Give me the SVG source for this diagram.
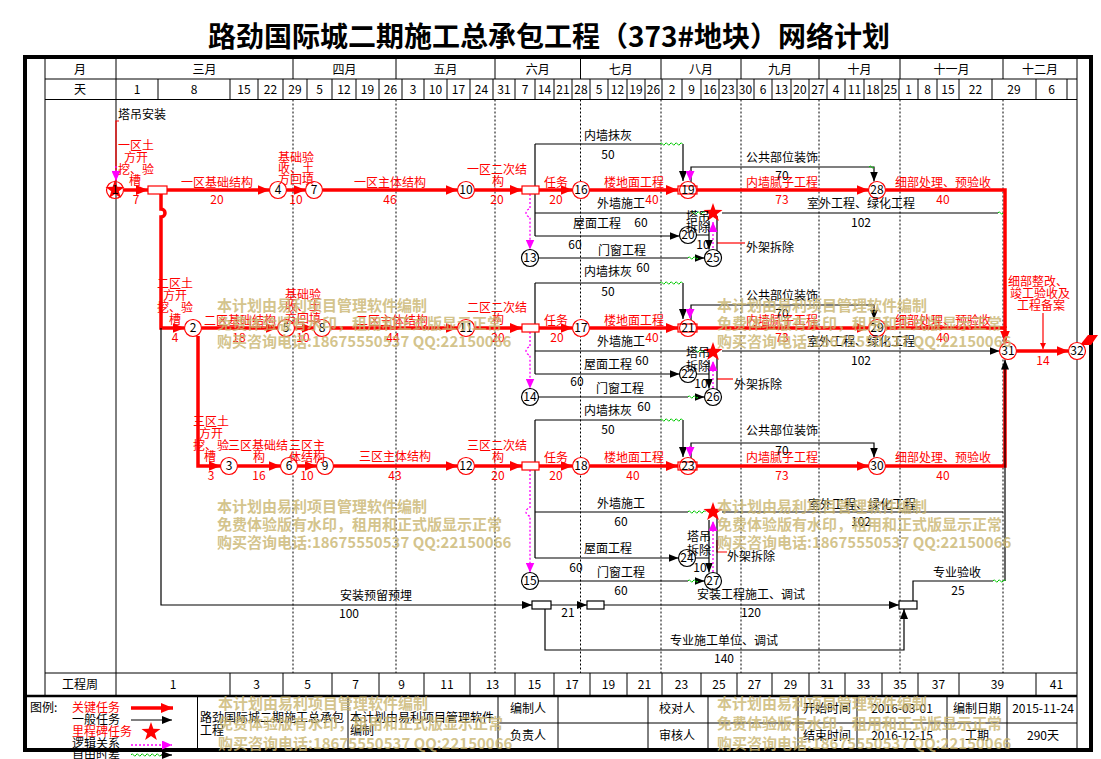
<svg xmlns="http://www.w3.org/2000/svg" width="1101" height="759" viewBox="0 0 1101 759">
<defs>
<style>
text{font-family:"Noto Sans CJK SC","Liberation Sans",sans-serif;font-size:12px;fill:#000}
.r{fill:#ff0000}
.m{text-anchor:middle}
.crit{stroke:#ff0000;stroke-width:3.5;fill:none}
.rl{stroke:#ff0000;stroke-width:1.2;fill:none}
.norm{stroke:#000;stroke-width:1.2;fill:none}
.logic{stroke:#ff00ff;stroke-width:1.3;stroke-dasharray:2,2;fill:none}
.ff{stroke:#00c800;stroke-width:1;fill:none}
.g{stroke:#000;stroke-width:1;fill:none}
.dot{stroke:#000;stroke-width:1;stroke-dasharray:2,2;fill:none}
.nr{fill:#fff;stroke:#ff0000;stroke-width:1.2}
.nk{fill:#fff;stroke:#000;stroke-width:1.2}
.br{fill:#fff;stroke:#ff0000;stroke-width:1.2}
.bo{fill:none;stroke:#ff0000;stroke-width:1.2}
.bk{fill:#fff;stroke:#000;stroke-width:1.2}
.wm{font-size:15px;font-weight:bold;fill:#c8b46e;fill-opacity:0.8}
</style>
<marker id="ar" viewBox="0 0 12 10" refX="12" refY="5" markerWidth="12" markerHeight="10" markerUnits="userSpaceOnUse" orient="auto"><path d="M0,0L12,5L0,10z" fill="#ff0000"/></marker>
<marker id="ak" viewBox="0 0 10 8" refX="10" refY="4" markerWidth="10" markerHeight="8" markerUnits="userSpaceOnUse" orient="auto"><path d="M0,0L10,4L0,8z" fill="#000"/></marker>
<marker id="am" viewBox="0 0 10 9" refX="10" refY="4.5" markerWidth="10" markerHeight="9" markerUnits="userSpaceOnUse" orient="auto"><path d="M0,0L10,4.5L0,9z" fill="#ff00ff"/></marker>
<marker id="ars" viewBox="0 0 6 6" refX="6" refY="3" markerWidth="6" markerHeight="6" markerUnits="userSpaceOnUse" orient="auto"><path d="M0,0L6,3L0,6z" fill="#ff0000"/></marker>
<polygon id="star" fill="#ff0000" points="0,-10 2.35,-3.24 9.51,-3.09 3.8,1.24 5.88,8.09 0,4 -5.88,8.09 -3.8,1.24 -9.51,-3.09 -2.35,-3.24"/>
</defs>
<rect width="1101" height="759" fill="#fff"/>
<text x="549" y="47" class="m" style="font-size:28px;font-weight:bold">路劲国际城二期施工总承包工程（373#地块）网络计划</text>

<g id="frame">
<rect x="25" y="57" width="1066" height="693" fill="none" stroke="#000" stroke-width="4"/>
<path class="g" d="M45,59V696M116,59V696M1077,59V750M45,79H1077M45,99.5H1077M45,673H1077"/>
<path d="M25,696H1077" stroke="#000" stroke-width="2.5"/>
<path class="g" d="M293,59V79M396,59V79M495,59V79M580.5,59V79M661,59V79M741,59V79M819,59V79M900,59V79M1003,59V79"/>
<path class="g" d="M158,79V99.5M230,79V99.5M258,79V99.5M283,79V99.5M307,79V99.5M332,79V99.5M356,79V99.5M379,79V99.5M402,79V99.5M424,79V99.5M447,79V99.5M470,79V99.5M493,79V99.5M515,79V99.5M535,79V99.5M554,79V99.5M572,79V99.5M590,79V99.5M608,79V99.5M627,79V99.5M645,79V99.5M662,79V99.5M682,79V99.5M701,79V99.5M719,79V99.5M737,79V99.5M754,79V99.5M772,79V99.5M791,79V99.5M809,79V99.5M827,79V99.5M845,79V99.5M864,79V99.5M882,79V99.5M899,79V99.5M918,79V99.5M937,79V99.5M959,79V99.5M992,79V99.5M1036,79V99.5M1067,79V99.5"/>
<path class="g" d="M230,673V696M283,673V696M332,673V696M379,673V696M424,673V696M470,673V696M515,673V696M554,673V696M590,673V696M627,673V696M662,673V696M701,673V696M737,673V696M772,673V696M809,673V696M845,673V696M882,673V696M918,673V696M959,673V696M1036,673V696"/>
<path class="dot" d="M293,99.5V673M396,99.5V673M495,99.5V673M580.5,99.5V673M661,99.5V673M741,99.5V673M819,99.5V673M900,99.5V673M1003,99.5V673"/>
<text x="80" y="73.5" class="m">月</text>
<text x="80" y="93.5" class="m">天</text>
<text x="80" y="688.5" class="m">工程周</text>
<g class="m">
<text x="204.5" y="73.5" class="m">三月</text><text x="344.5" y="73.5" class="m">四月</text><text x="445.5" y="73.5" class="m">五月</text><text x="537.8" y="73.5" class="m">六月</text><text x="620.8" y="73.5" class="m">七月</text><text x="701" y="73.5" class="m">八月</text><text x="780" y="73.5" class="m">九月</text><text x="859.5" y="73.5" class="m">十月</text><text x="951.5" y="73.5" class="m">十一月</text><text x="1040" y="73.5" class="m">十二月</text>
</g>
<g>
<text x="137" y="93.5" class="m">1</text><text x="194" y="93.5" class="m">8</text><text x="244" y="93.5" class="m">15</text><text x="270.5" y="93.5" class="m">22</text><text x="295" y="93.5" class="m">29</text><text x="319.5" y="93.5" class="m">5</text><text x="344" y="93.5" class="m">12</text><text x="367.5" y="93.5" class="m">19</text><text x="390.5" y="93.5" class="m">26</text><text x="413" y="93.5" class="m">3</text><text x="435.5" y="93.5" class="m">10</text><text x="458.5" y="93.5" class="m">17</text><text x="481.5" y="93.5" class="m">24</text><text x="504" y="93.5" class="m">31</text><text x="525" y="93.5" class="m">7</text><text x="544.5" y="93.5" class="m">14</text><text x="563" y="93.5" class="m">21</text><text x="581" y="93.5" class="m">28</text><text x="599" y="93.5" class="m">5</text><text x="617.5" y="93.5" class="m">12</text><text x="636" y="93.5" class="m">19</text><text x="653.5" y="93.5" class="m">26</text><text x="672" y="93.5" class="m">2</text><text x="691.5" y="93.5" class="m">9</text><text x="710" y="93.5" class="m">16</text><text x="728" y="93.5" class="m">23</text><text x="745.5" y="93.5" class="m">30</text><text x="763" y="93.5" class="m">6</text><text x="781.5" y="93.5" class="m">13</text><text x="800" y="93.5" class="m">20</text><text x="818" y="93.5" class="m">27</text><text x="836" y="93.5" class="m">4</text><text x="854.5" y="93.5" class="m">11</text><text x="873" y="93.5" class="m">18</text><text x="890.5" y="93.5" class="m">25</text><text x="908.5" y="93.5" class="m">1</text><text x="927.5" y="93.5" class="m">8</text><text x="948" y="93.5" class="m">15</text><text x="975.5" y="93.5" class="m">22</text><text x="1014" y="93.5" class="m">29</text><text x="1051.5" y="93.5" class="m">6</text>
</g>
<g>
<text x="173" y="688.5" class="m">1</text><text x="256.5" y="688.5" class="m">3</text><text x="307.5" y="688.5" class="m">5</text><text x="355.5" y="688.5" class="m">7</text><text x="401.5" y="688.5" class="m">9</text><text x="447" y="688.5" class="m">11</text><text x="492.5" y="688.5" class="m">13</text><text x="534.5" y="688.5" class="m">15</text><text x="572" y="688.5" class="m">17</text><text x="608.5" y="688.5" class="m">19</text><text x="644.5" y="688.5" class="m">21</text><text x="681.5" y="688.5" class="m">23</text><text x="719" y="688.5" class="m">25</text><text x="754.5" y="688.5" class="m">27</text><text x="790.5" y="688.5" class="m">29</text><text x="827" y="688.5" class="m">31</text><text x="863.5" y="688.5" class="m">33</text><text x="900" y="688.5" class="m">35</text><text x="938.5" y="688.5" class="m">37</text><text x="997.5" y="688.5" class="m">39</text><text x="1056.5" y="688.5" class="m">41</text>
</g>
</g>

<g id="connectors">
<path class="crit" marker-end="url(#ar)" d="M124,190H148"/>
<path class="crit" marker-end="url(#ar)" d="M167,190H269.5"/>
<path class="crit" marker-end="url(#ar)" d="M286.5,190H305.5"/>
<path class="crit" marker-end="url(#ar)" d="M322.5,190H457.5"/>
<path class="crit" marker-end="url(#ar)" d="M474.5,190H522"/>
<path class="crit" marker-end="url(#ar)" d="M539,190H572.5"/>
<path class="crit" marker-end="url(#ar)" d="M589.5,190H678"/>
<path class="crit" marker-end="url(#ar)" d="M697,190H868.5"/>
<path class="crit" d="M885.5,190H1005V328"/>
<path class="crit" marker-end="url(#ar)" d="M161,194V209a4,4 0 0 1 0,8V328H184.5"/>
<path class="crit" marker-end="url(#ar)" d="M201.5,328H277.5"/>
<path class="crit" marker-end="url(#ar)" d="M294.5,328H313.5"/>
<path class="crit" marker-end="url(#ar)" d="M330.5,328H457.5"/>
<path class="crit" marker-end="url(#ar)" d="M474.5,328H522"/>
<path class="crit" marker-end="url(#ar)" d="M539,328H572.5"/>
<path class="crit" marker-end="url(#ar)" d="M589.5,328H678"/>
<path class="crit" marker-end="url(#ar)" d="M697,328H868.5"/>
<path class="crit" marker-end="url(#ar)" d="M885.5,328H1005V342.5"/>
<path class="crit" marker-end="url(#ar)" d="M198,336V466H220.5"/>
<path class="crit" marker-end="url(#ar)" d="M237.5,466H280.5"/>
<path class="crit" marker-end="url(#ar)" d="M297.5,466H316.5"/>
<path class="crit" marker-end="url(#ar)" d="M333.5,466H457.5"/>
<path class="crit" marker-end="url(#ar)" d="M474.5,466H522"/>
<path class="crit" marker-end="url(#ar)" d="M539,466H572.5"/>
<path class="crit" marker-end="url(#ar)" d="M589.5,466H678"/>
<path class="crit" marker-end="url(#ar)" d="M697,466H868.5"/>
<path class="crit" d="M885.5,466H1005V368"/>
<path class="crit" marker-end="url(#ar)" d="M1016.5,351H1068.5"/>
<path class="rl" d="M119,121H116V181"/>
<path class="rl" marker-end="url(#ars)" d="M1043,313V349"/>
<path class="rl" d="M717,243H745"/>
<path class="rl" d="M717,379H733"/>
<path class="rl" d="M717,540V552H727"/>
<path class="norm" d="M535,144V236M535,144H660M535,213H692M722,213H998"/>
<path class="norm" marker-end="url(#ak)" d="M683,144V181"/>
<path class="norm" marker-end="url(#ak)" d="M535,236H679.5"/>
<path class="norm" marker-end="url(#ak)" d="M691,182V167H874V181.5"/>
<path class="norm" d="M538.5,258H688"/>
<path class="norm" marker-end="url(#ak)" d="M698,258H704.5"/>
<path class="norm" marker-end="url(#ak)" d="M709,221V249.5"/>
<path class="norm" d="M717,216V251M696.5,235H709"/>
<path class="norm" d="M535,283V374M535,283H660M535,351H694"/>
<path class="norm" marker-end="url(#ak)" d="M683,283V319"/>
<path class="norm" marker-end="url(#ak)" d="M535,374H679.5"/>
<path class="norm" marker-end="url(#ak)" d="M691,320V305H874V319.5"/>
<path class="norm" marker-end="url(#ak)" d="M722,351H999.5"/>
<path class="norm" d="M538.5,397H688"/>
<path class="norm" marker-end="url(#ak)" d="M698,397H704.5"/>
<path class="norm" marker-end="url(#ak)" d="M709,360V388.5"/>
<path class="norm" d="M717,358V390M696.5,374H709"/>
<path class="norm" d="M535,420V558M535,420H660M535,512H688M722,512H1003"/>
<path class="norm" marker-end="url(#ak)" d="M683,420V457"/>
<path class="norm" marker-end="url(#ak)" d="M535,558H678.5"/>
<path class="norm" marker-end="url(#ak)" d="M691,458V443H874V457.5"/>
<path class="norm" d="M538.5,581H688"/>
<path class="norm" marker-end="url(#ak)" d="M698,581H704.5"/>
<path class="norm" marker-end="url(#ak)" d="M709,520V572.5"/>
<path class="norm" d="M717,518V574M695.5,558H709"/>
<path class="norm" marker-end="url(#ak)" d="M161,328V605H532"/>
<path class="norm" marker-end="url(#ak)" d="M551,605H587"/>
<path class="norm" marker-end="url(#ak)" d="M545,609V650H904V609"/>
<path class="norm" marker-end="url(#ak)" d="M604,605H899"/>
<path class="norm" d="M913,601V581H993"/>
<path class="norm" marker-end="url(#ak)" d="M1005,581V359.5"/>
<path class="ff" d="M660,144q1.25,-2.5 2.5,0t2.5,0t2.5,0t2.5,0t2.5,0t2.5,0t2.5,0t2.5,0t2.5,0"/>
<path class="ff" d="M660,283q1.25,-2.5 2.5,0t2.5,0t2.5,0t2.5,0t2.5,0t2.5,0t2.5,0t2.5,0t2.5,0"/>
<path class="ff" d="M660,420q1.25,-2.5 2.5,0t2.5,0t2.5,0t2.5,0t2.5,0t2.5,0t2.5,0t2.5,0t2.5,0"/>
<path class="ff" d="M692,213q1.25,-2.5 2.5,0t2.5,0t2.5,0t2.5,0t2.5,0"/>
<path class="ff" d="M694,351q1.25,-2.5 2.5,0t2.5,0t2.5,0t2.5,0"/>
<path class="ff" d="M688,512q1.25,-2.5 2.5,0t2.5,0t2.5,0t2.5,0t2.5,0t2.5,0t2.5,0"/>
<path class="ff" d="M688,258q1.25,-2.5 2.5,0t2.5,0t2.5,0t2.5,0"/>
<path class="ff" d="M688,397q1.25,-2.5 2.5,0t2.5,0t2.5,0t2.5,0"/>
<path class="ff" d="M688,581q1.25,-2.5 2.5,0t2.5,0t2.5,0t2.5,0"/>
<path class="ff" d="M993,581q1.25,-2.5 2.5,0t2.5,0t2.5,0t2.5,0t2.5,0"/>
<path class="ff" d="M998,213q1.25,-2.5 2.5,0t2.5,0"/>
<path class="ff" d="M869,167q1.25,-2 2.5,0t2.5,0"/>
<path class="logic" marker-end="url(#am)" d="M116,166V181"/>
<path class="logic" marker-end="url(#am)" d="M530,194V209a4,4 0 0 0 0,8V249.5"/>
<path class="logic" marker-end="url(#am)" d="M530,332V347a4,4 0 0 0 0,8V388.5"/>
<path class="logic" marker-end="url(#am)" d="M530,470V508a4,4 0 0 0 0,8V572.5"/>
<path class="logic" marker-end="url(#am)" d="M713,248V222"/>
<path class="logic" marker-end="url(#am)" d="M713,388V361"/>
<path class="logic" marker-end="url(#am)" d="M713,572V521"/>
<path class="logic" marker-end="url(#am)" d="M690,170V181"/>
<path class="logic" marker-end="url(#am)" d="M690,308V319"/>
<path class="logic" marker-end="url(#am)" d="M690,446V457"/>
</g>

<g id="milestones">
<use href="#star" x="115" y="190"/>
<use href="#star" x="713" y="213"/>
<use href="#star" x="713" y="352"/>
<use href="#star" x="713" y="512"/>
<polygon points="1080,345 1088,335 1098,335 1091,345" fill="#ff0000"/>
</g>

<g id="boxes">
<rect class="br" x="148" y="186" width="19" height="8"/>
<rect class="br" x="522" y="186" width="17" height="8"/>
<rect class="br" x="522" y="324" width="17" height="8"/>
<rect class="br" x="522" y="462" width="17" height="8"/>
<rect class="bk" x="532" y="601" width="19" height="8"/>
<rect class="bk" x="587" y="601" width="17" height="8"/>
<rect class="bk" x="899" y="601" width="18" height="8"/>
</g>

<g id="nodes">
<g id="n1"><circle cx="115" cy="190" r="8.5" fill="none" stroke="#ff0000" stroke-width="1.2"/><text x="115" y="194" class="m">1</text></g>
<g id="n4"><circle class="nr" cx="278" cy="190" r="8.5"/><text x="278" y="194" class="m">4</text></g>
<g id="n7"><circle class="nr" cx="314" cy="190" r="8.5"/><text x="314" y="194" class="m">7</text></g>
<g id="n10"><circle class="nr" cx="466" cy="190" r="8.5"/><text x="466" y="194" class="m">10</text></g>
<g id="n16"><circle class="nr" cx="581" cy="190" r="8.5"/><text x="581" y="194" class="m">16</text></g>
<g id="n19"><circle class="nr" cx="688" cy="190" r="8.5"/><rect class="bo" x="678" y="186" width="19" height="8"/><text x="688" y="194" class="m">19</text></g>
<g id="n28"><circle class="nr" cx="877" cy="190" r="8.5"/><text x="877" y="194" class="m">28</text></g>
<g id="n2"><circle class="nr" cx="193" cy="328" r="8.5"/><text x="193" y="332" class="m">2</text></g>
<g id="n5"><circle class="nr" cx="286" cy="328" r="8.5"/><text x="286" y="332" class="m">5</text></g>
<g id="n8"><circle class="nr" cx="322" cy="328" r="8.5"/><text x="322" y="332" class="m">8</text></g>
<g id="n11"><circle class="nr" cx="466" cy="328" r="8.5"/><text x="466" y="332" class="m">11</text></g>
<g id="n17"><circle class="nr" cx="581" cy="328" r="8.5"/><text x="581" y="332" class="m">17</text></g>
<g id="n21"><circle class="nr" cx="688" cy="328" r="8.5"/><rect class="bo" x="678" y="324" width="19" height="8"/><text x="688" y="332" class="m">21</text></g>
<g id="n29"><circle class="nr" cx="877" cy="328" r="8.5"/><text x="877" y="332" class="m">29</text></g>
<g id="n3"><circle class="nr" cx="229" cy="466" r="8.5"/><text x="229" y="470" class="m">3</text></g>
<g id="n6"><circle class="nr" cx="289" cy="466" r="8.5"/><text x="289" y="470" class="m">6</text></g>
<g id="n9"><circle class="nr" cx="325" cy="466" r="8.5"/><text x="325" y="470" class="m">9</text></g>
<g id="n12"><circle class="nr" cx="466" cy="466" r="8.5"/><text x="466" y="470" class="m">12</text></g>
<g id="n18"><circle class="nr" cx="581" cy="466" r="8.5"/><text x="581" y="470" class="m">18</text></g>
<g id="n23"><circle class="nr" cx="688" cy="466" r="8.5"/><rect class="bo" x="678" y="462" width="19" height="8"/><text x="688" y="470" class="m">23</text></g>
<g id="n30"><circle class="nr" cx="877" cy="466" r="8.5"/><text x="877" y="470" class="m">30</text></g>
<g id="n31"><circle class="nr" cx="1008" cy="351" r="8.5"/><text x="1008" y="355" class="m">31</text></g>
<g id="n32"><circle class="nr" cx="1077" cy="351" r="8.5"/><text x="1077" y="355" class="m">32</text></g>
<g id="n13"><circle class="nk" cx="530" cy="258" r="8.5"/><text x="530" y="262" class="m">13</text></g>
<g id="n20"><circle class="nk" cx="688" cy="235" r="8.5"/><text x="688" y="239" class="m">20</text></g>
<g id="n25"><circle class="nk" cx="713" cy="258" r="8.5"/><text x="713" y="262" class="m">25</text></g>
<g id="n14"><circle class="nk" cx="530" cy="397" r="8.5"/><text x="530" y="401" class="m">14</text></g>
<g id="n22"><circle class="nk" cx="688" cy="374" r="8.5"/><text x="688" y="378" class="m">22</text></g>
<g id="n26"><circle class="nk" cx="713" cy="397" r="8.5"/><text x="713" y="401" class="m">26</text></g>
<g id="n15"><circle class="nk" cx="530" cy="581" r="8.5"/><text x="530" y="585" class="m">15</text></g>
<g id="n24"><circle class="nk" cx="687" cy="558" r="8.5"/><text x="687" y="562" class="m">24</text></g>
<g id="n27"><circle class="nk" cx="713" cy="581" r="8.5"/><text x="713" y="585" class="m">27</text></g>
</g>

<g id="labels-critical">
<text class="r m" x="136" y="150">一区土</text><text class="r m" x="136" y="162">方开</text><text class="r m" x="136" y="174">挖、验</text><text class="r m" x="135" y="185">槽</text><text class="r m" x="136" y="204">7</text>
<text class="r m" x="217" y="187">一区基础结构</text><text class="r m" x="217" y="204">20</text>
<text class="r m" x="296" y="162">基础验</text><text class="r m" x="296" y="173">收、土</text><text class="r m" x="296" y="184">方回填</text><text class="r m" x="296" y="204">10</text>
<text class="r m" x="390" y="187">一区主体结构</text><text class="r m" x="390" y="204">46</text>
<text class="r m" x="497" y="174">一区二次结</text><text class="r m" x="498" y="186">构</text><text class="r m" x="497" y="204">20</text>
<text class="r m" x="556" y="187">任务</text><text class="r m" x="556" y="204">20</text>
<text class="r m" x="634" y="187">楼地面工程</text><text class="r m" x="652" y="204">40</text>
<text class="r m" x="782" y="187">内墙腻子工程</text><text class="r m" x="782" y="204">73</text>
<text class="r m" x="943" y="187">细部处理、预验收</text><text class="r m" x="943" y="204">40</text>

<text class="r m" x="175" y="288">二区土</text><text class="r m" x="175" y="300">方开</text><text class="r m" x="175" y="312">挖、验</text><text class="r m" x="175" y="324">槽</text><text class="r m" x="175" y="342">4</text>
<text class="r m" x="240" y="325">二区基础结构</text><text class="r m" x="239" y="342">18</text>
<text class="r m" x="303" y="299">基础验</text><text class="r m" x="303" y="311">收、土</text><text class="r m" x="303" y="323">方回填</text><text class="r m" x="303" y="342">10</text>
<text class="r m" x="392" y="325">二区主体结构</text><text class="r m" x="393" y="342">44</text>
<text class="r m" x="497" y="312">二区二次结</text><text class="r m" x="498" y="324">构</text><text class="r m" x="498" y="342">20</text>
<text class="r m" x="556" y="325">任务</text><text class="r m" x="557" y="342">20</text>
<text class="r m" x="634" y="325">楼地面工程</text><text class="r m" x="652" y="342">40</text>
<text class="r m" x="782" y="325">内墙腻子工程</text><text class="r m" x="782" y="342">73</text>
<text class="r m" x="943" y="325">细部处理、预验收</text><text class="r m" x="943" y="342">40</text>

<text class="r m" x="211" y="426">三区土</text><text class="r m" x="211" y="438">方开</text><text class="r m" x="211" y="450">挖、验</text><text class="r m" x="210" y="461">槽</text><text class="r m" x="211" y="480">3</text>
<text class="r m" x="258" y="450">三区基础结</text><text class="r m" x="259" y="462">构</text><text class="r m" x="259" y="480">16</text>
<text class="r m" x="307" y="450">三区主</text><text class="r m" x="307" y="462">体结构</text><text class="r m" x="307" y="480">10</text>
<text class="r m" x="395" y="461">三区主体结构</text><text class="r m" x="395" y="480">43</text>
<text class="r m" x="497" y="450">三区二次结</text><text class="r m" x="498" y="462">构</text><text class="r m" x="498" y="480">20</text>
<text class="r m" x="556" y="462">任务</text><text class="r m" x="556" y="480">20</text>
<text class="r m" x="634" y="462">楼地面工程</text><text class="r m" x="633" y="480">40</text>
<text class="r m" x="782" y="462">内墙腻子工程</text><text class="r m" x="782" y="480">73</text>
<text class="r m" x="943" y="462">细部处理、预验收</text><text class="r m" x="943" y="480">40</text>

<text class="r m" x="1038" y="286">细部整改、</text><text class="r m" x="1040" y="298">竣工验收及</text><text class="r m" x="1041" y="310">工程备案</text><text class="r m" x="1043" y="365">14</text>
</g>

<g id="labels-normal">
<text x="118" y="119">塔吊安装</text>
<text class="m" x="608" y="140">内墙抹灰</text><text class="m" x="608" y="159">50</text>
<text class="m" x="782" y="162">公共部位装饰</text><text class="m" x="782" y="180">70</text>
<text class="m" x="621" y="208">外墙施工</text><text class="m" x="641" y="227">60</text>
<text class="m" x="597" y="228">屋面工程</text><text class="m" x="575" y="249">60</text>
<text class="m" x="861" y="208">室外工程、绿化工程</text><text class="m" x="861" y="227">102</text>
<text class="m" x="622" y="255">门窗工程</text><text class="m" x="643" y="272">60</text>
<text class="m" x="698" y="221">塔吊</text><text class="m" x="698" y="232">拆除</text><text class="m" x="703" y="249">10</text>
<text class="m" x="770" y="252">外架拆除</text>

<text class="m" x="608" y="276">内墙抹灰</text><text class="m" x="608" y="296">50</text>
<text class="m" x="782" y="300">公共部位装饰</text><text class="m" x="782" y="318">70</text>
<text class="m" x="621" y="346">外墙施工</text><text class="m" x="642" y="365">60</text>
<text class="m" x="608" y="369">屋面工程</text><text class="m" x="577" y="386">60</text>
<text class="m" x="861" y="346">室外工程、绿化工程</text><text class="m" x="861" y="365">102</text>
<text class="m" x="620" y="393">门窗工程</text><text class="m" x="644" y="411">60</text>
<text class="m" x="698" y="357">塔吊</text><text class="m" x="698" y="371">拆除</text><text class="m" x="701" y="388">10</text>
<text class="m" x="758" y="389">外架拆除</text>

<text class="m" x="608" y="415">内墙抹灰</text><text class="m" x="608" y="434">50</text>
<text class="m" x="782" y="435">公共部位装饰</text><text class="m" x="782" y="455">70</text>
<text class="m" x="621" y="508">外墙施工</text><text class="m" x="621" y="526">60</text>
<text class="m" x="862" y="509">室外工程、绿化工程</text><text class="m" x="861" y="526">102</text>
<text class="m" x="608" y="553">屋面工程</text><text class="m" x="576" y="572">60</text>
<text class="m" x="621" y="577">门窗工程</text><text class="m" x="621" y="595">60</text>
<text class="m" x="699" y="541">塔吊</text><text class="m" x="699" y="555">拆除</text><text class="m" x="700" y="572">10</text>
<text class="m" x="751" y="561">外架拆除</text>

<text class="m" x="376" y="600">安装预留预埋</text><text class="m" x="349" y="618">100</text>
<text class="m" x="568" y="617">21</text>
<text class="m" x="751" y="599">安装工程施工、调试</text><text class="m" x="751" y="617">120</text>
<text class="m" x="724" y="645">专业施工单位、调试</text><text class="m" x="724" y="663">140</text>
<text class="m" x="957" y="577">专业验收</text><text class="m" x="958" y="595">25</text>
</g>

<g id="legend">
<path class="g" d="M197.5,696V750M348,696V750M498,696V750M558,696V750M648,696V750M708,696V750M798,696V750M857,696V750M947,696V750M1007,696V750M498,723H1077"/>
<text x="30" y="712">图例:</text>
<text class="r" x="72" y="712">关键任务</text>
<path class="crit" marker-end="url(#ar)" d="M131,708H173"/>
<text x="72" y="724">一般任务</text>
<path class="norm" marker-end="url(#ak)" d="M131,720H172"/>
<text class="r" x="72" y="736">里程碑任务</text>
<use href="#star" x="151" y="732"/>
<text x="72" y="748">逻辑关系</text>
<path class="logic" marker-end="url(#am)" d="M131,745H172"/>
<text x="72" y="758.5">自由时差</text>
<path class="ff" d="M131,755q1.25,-2.5 2.5,0t2.5,0t2.5,0t2.5,0t2.5,0t2.5,0t2.5,0t2.5,0t2.5,0t2.5,0t2.5,0t2.5,0"/>
<path class="norm" marker-end="url(#ak)" d="M161,755H172"/>
<text x="200" y="722">路劲国际城二期施工总承包</text><text x="200" y="735">工程</text>
<text x="350" y="722">本计划由易利项目管理软件</text><text x="350" y="735">编制</text>
<text class="m" x="528" y="713">编制人</text><text class="m" x="528" y="740">负责人</text>
<text class="m" x="677" y="713">校对人</text><text class="m" x="677" y="740">审核人</text>
<text class="m" x="827" y="713">开始时间</text><text class="m" x="827" y="740">结束时间</text>
<text class="m" x="902" y="713">2016-03-01</text><text class="m" x="902" y="740">2016-12-15</text>
<text class="m" x="977" y="713">编制日期</text><text class="m" x="977" y="740">工期</text>
<text class="m" x="1043" y="713">2015-11-24</text><text class="m" x="1043" y="740">290天</text>
</g>

<g id="watermarks">
<text class="wm" x="217" y="311">本计划由易利项目管理软件编制</text><text class="wm" x="217" y="329">免费体验版有水印，租用和正式版显示正常</text><text class="wm" x="217" y="347">购买咨询电话:18675550537 QQ:22150066</text>
<text class="wm" x="717" y="311">本计划由易利项目管理软件编制</text><text class="wm" x="717" y="329">免费体验版有水印，租用和正式版显示正常</text><text class="wm" x="717" y="347">购买咨询电话:18675550537 QQ:22150066</text>
<text class="wm" x="217" y="512">本计划由易利项目管理软件编制</text><text class="wm" x="217" y="530">免费体验版有水印，租用和正式版显示正常</text><text class="wm" x="217" y="548">购买咨询电话:18675550537 QQ:22150066</text>
<text class="wm" x="717" y="512">本计划由易利项目管理软件编制</text><text class="wm" x="717" y="530">免费体验版有水印，租用和正式版显示正常</text><text class="wm" x="717" y="548">购买咨询电话:18675550537 QQ:22150066</text>
<text class="wm" x="218" y="709">本计划由易利项目管理软件编制</text><text class="wm" x="218" y="729">免费体验版有水印，租用和正式版显示正常</text><text class="wm" x="218" y="749">购买咨询电话:18675550537 QQ:22150066</text>
<text class="wm" x="717" y="709">本计划由易利项目管理软件编制</text><text class="wm" x="717" y="729">免费体验版有水印，租用和正式版显示正常</text><text class="wm" x="717" y="749">购买咨询电话:18675550537 QQ:22150066</text>
</g>
</svg>
